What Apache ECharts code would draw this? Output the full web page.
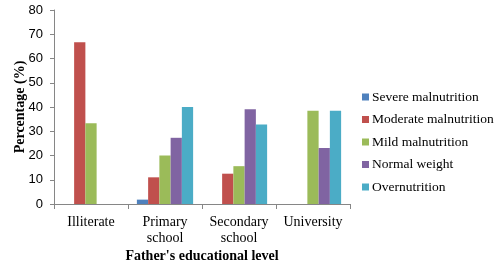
<!DOCTYPE html>
<html>
<head>
<meta charset="utf-8">
<script src="https://cdn.jsdelivr.net/npm/echarts@6/dist/echarts.min.js"></script>
<style>
  html, body { margin: 0; padding: 0; background: #fff; }
  #chart { width: 500px; height: 267px; }
</style>
</head>
<body>
<div id="chart"></div>
<script>
// categories and values
const categories = ['Illiterate', 'Primary\nschool', 'Secondary\nschool', 'University'];
const severe = [0, 1.8, 0, 0];
const moderate = [66.7, 11, 12.5, 0];
const mild = [33.3, 20, 15.6, 38.5];
const normal = [0, 27.3, 39.1, 23.1];
const over = [0, 40, 32.8, 38.5];
const seriesNames = ['Severe malnutrition', 'Moderate malnutrition', 'Mild malnutrition', 'Normal weight', 'Overnutrition'];
const colors = ['#4F81BD', '#C0504D', '#9BBB59', '#8064A2', '#4BACC6'];

const chart = echarts.init(document.getElementById('chart'));

const serif = '"Liberation Serif", "DejaVu Serif", serif';
const sans = '"Liberation Sans", Arial, sans-serif';

const option = {
  animation: false,
  color: colors,
  grid: { left: 54, right: 150, top: 10, bottom: 63, outerBoundsMode: 'none', containLabel: false },
  legend: {
    orient: 'vertical',
    left: 357,
    top: 85,
    itemWidth: 7,
    itemHeight: 7,
    itemGap: 8.5,
    icon: 'rect',
    textStyle: { fontFamily: serif, fontSize: 13.5, color: '#000', padding: [0, 0, 0, -2] },
    data: seriesNames
  },
  xAxis: {
    type: 'category',
    data: categories,
    name: "Father's educational level",
    nameLocation: 'middle',
    nameGap: 45,
    nameMoveOverlap: false,
    nameTextStyle: { fontFamily: serif, fontSize: 14, fontWeight: 'bold', color: '#000' },
    axisLine: { lineStyle: { color: '#868686' } },
    axisTick: { show: true, length: 5, lineStyle: { color: '#868686' } },
    axisLabel: { interval: 0, hideOverlap: false, fontFamily: serif, fontSize: 14, color: '#000', margin: 10, lineHeight: 16 }
  },
  yAxis: {
    type: 'value',
    min: 0,
    max: 80,
    interval: 10,
    name: 'Percentage (%)',
    nameLocation: 'middle',
    nameGap: 27,
    nameMoveOverlap: false,
    nameTextStyle: { fontFamily: serif, fontSize: 14, fontWeight: 'bold', color: '#000' },
    axisLine: { show: true, lineStyle: { color: '#868686' } },
    axisTick: { show: true, length: 4, lineStyle: { color: '#868686' } },
    axisLabel: { fontFamily: sans, fontSize: 13, color: '#000', margin: 11 },
    splitLine: { show: false }
  },
  series: [severe, moderate, mild, normal, over].map((d, i) => ({
    name: seriesNames[i],
    type: 'bar',
    data: d,
    barGap: '0%',
    barCategoryGap: '24%'
  }))
};

chart.setOption(option);
</script>
</body>
</html>
